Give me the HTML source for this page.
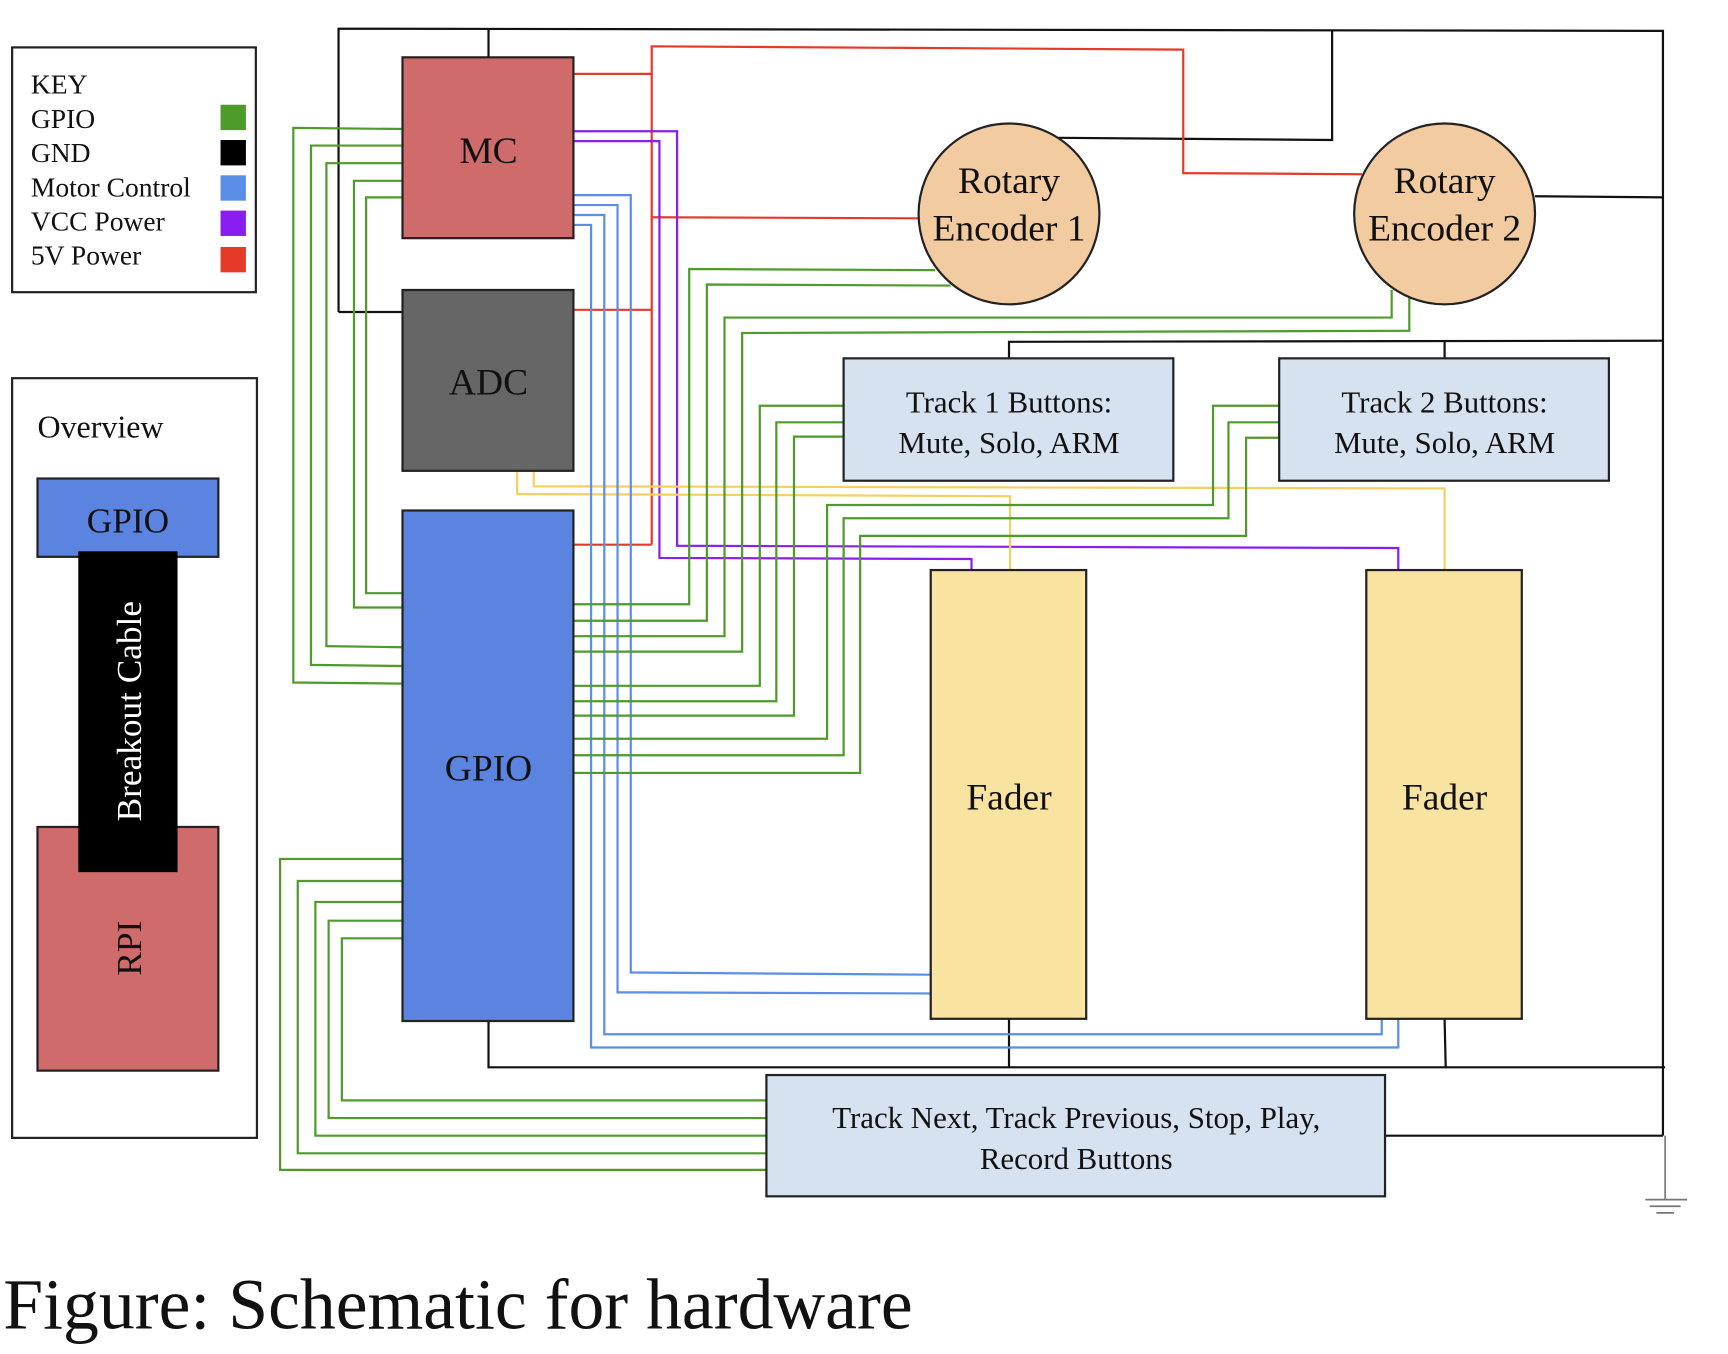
<!DOCTYPE html>
<html><head><meta charset="utf-8"><style>
html,body{margin:0;padding:0;background:#fff;}
svg{display:block;}
text{font-family:"Liberation Serif",serif;fill:#111;}
</style></head><body>
<svg width="1728" height="1354" viewBox="0 0 1567 1228" preserveAspectRatio="none" xmlns="http://www.w3.org/2000/svg">
<!-- KEY -->
<rect x="11" y="43" width="221" height="222" fill="#fff" stroke="#222" stroke-width="2"/>
<g font-size="25">
<text x="28" y="85">KEY</text>
<text x="28" y="116">GPIO</text>
<text x="28" y="147">GND</text>
<text x="28" y="178">Motor Control</text>
<text x="28" y="209">VCC Power</text>
<text x="28" y="240">5V Power</text>
</g>
<rect x="200" y="95" width="23" height="23" fill="#4e9a2a"/>
<rect x="200" y="127" width="23" height="23" fill="#000"/>
<rect x="200" y="159" width="23" height="23" fill="#5b8ee6"/>
<rect x="200" y="191" width="23" height="23" fill="#8a1ef0"/>
<rect x="200" y="224" width="23" height="23" fill="#e53a2a"/>
<!-- Overview -->
<rect x="11" y="343" width="222" height="689" fill="#fff" stroke="#222" stroke-width="2"/>
<text x="34" y="397" font-size="29">Overview</text>
<rect x="34" y="434" width="164" height="71" fill="#5b84e0" stroke="#222" stroke-width="2"/>
<text x="116" y="483" font-size="32" text-anchor="middle">GPIO</text>
<rect x="34" y="750" width="164" height="221" fill="#d06b6b" stroke="#222" stroke-width="2"/>
<rect x="71" y="500" width="90" height="291" fill="#000"/>
<text transform="translate(128,645) rotate(-90)" font-size="32" text-anchor="middle" style="fill:#fff">Breakout Cable</text>
<text transform="translate(128,860) rotate(-90)" font-size="32" text-anchor="middle">RPI</text>

<!-- black wires -->
<g fill="none" stroke="#111" stroke-width="2">
<polyline points="307,283 307,26 1508,28 1508,1030"/>
<line x1="307" y1="283" x2="365" y2="283"/>
<line x1="443" y1="26" x2="443" y2="52"/>
<polyline points="1208,27 1208,127 960,125"/>
<line x1="1392" y1="178" x2="1508" y2="179"/>
<polyline points="915,325 915,310 1508,309"/>
<line x1="1310" y1="310" x2="1310" y2="325"/>
<polyline points="443,926 443,968 1510,968"/>
<line x1="915" y1="924" x2="915" y2="968"/>
<line x1="1310" y1="924" x2="1311" y2="968"/>
<line x1="1256" y1="1030" x2="1508" y2="1030"/>
</g>
<g stroke="#777" stroke-width="1.5">
<line x1="1510" y1="1030" x2="1510" y2="1088"/>
<line x1="1492" y1="1088" x2="1530" y2="1088"/>
<line x1="1496" y1="1094" x2="1524" y2="1094"/>
<line x1="1502" y1="1100" x2="1518" y2="1100"/>
</g>
<!-- red -->
<g fill="none" stroke="#e53a2a" stroke-width="2">
<polyline points="520,67 591,67"/>
<polyline points="591,494 591,42 1073,45 1073,157 1235,158"/>
<line x1="591" y1="197" x2="833" y2="198"/>
<line x1="520" y1="281" x2="591" y2="281"/>
<line x1="520" y1="494" x2="591" y2="494"/>
</g>
<!-- purple -->
<g fill="none" stroke="#8a1ef0" stroke-width="2">
<polyline points="520,119 614,119 614,495 1268,497 1268,517"/>
<polyline points="520,128 598,128 598,506 881,507 881,517"/>
</g>
<!-- yellow -->
<g fill="none" stroke="#f5d060" stroke-width="2">
<polyline points="469,427 469,448 916,450 916,517"/>
<polyline points="484,427 484,441 1310,443 1310,517"/>
</g>
<!-- blue -->
<g fill="none" stroke="#5b8ee6" stroke-width="2">
<polyline points="520,177 572,177 572,882 844,884"/>
<polyline points="520,186 560,186 560,900 844,901"/>
<polyline points="520,195 548,195 548,938 1253,938 1253,924"/>
<polyline points="520,204 536,204 536,950 1268,950 1268,924"/>
</g>
<!-- green -->
<g fill="none" stroke="#4e9a2a" stroke-width="2">
<polyline points="365,117 266,116 266,619 365,620"/>
<polyline points="365,132 282,132 282,603 365,604"/>
<polyline points="365,148 296,148 296,586 365,587"/>
<polyline points="365,164 321,164 321,551 365,551"/>
<polyline points="365,179 332,179 332,538 365,538"/>
<polyline points="365,779 254,779 254,1061 695,1061"/>
<polyline points="365,799 270,799 270,1046 695,1046"/>
<polyline points="365,818 286,818 286,1030 695,1030"/>
<polyline points="365,835 298,835 298,1014 695,1014"/>
<polyline points="365,851 310,851 310,998 695,998"/>
<polyline points="520,548 625,548 625,244 848,245"/>
<polyline points="520,563 641,563 641,258 862,259"/>
<polyline points="520,577 657,577 657,288 1262,288 1262,263"/>
<polyline points="520,591 673,591 673,302 1278,300 1278,268"/>
<polyline points="520,622 689,622 689,368 765,368"/>
<polyline points="520,636 704,636 704,383 765,383"/>
<polyline points="520,649 720,649 720,396 765,396"/>
<polyline points="520,670 750,670 750,458 1100,458 1100,368 1160,368"/>
<polyline points="520,685 765,685 765,470 1114,470 1114,383 1160,383"/>
<polyline points="520,701 780,701 780,486 1130,486 1130,397 1160,397"/>
</g>

<!-- blocks -->
<rect x="365" y="52" width="155" height="164" fill="#d06b6b" stroke="#222" stroke-width="2"/>
<text x="443" y="148" font-size="34" text-anchor="middle">MC</text>
<rect x="365" y="263" width="155" height="164" fill="#666" stroke="#222" stroke-width="2"/>
<text x="443" y="358" font-size="34" text-anchor="middle">ADC</text>
<rect x="365" y="463" width="155" height="463" fill="#5b84e0" stroke="#222" stroke-width="2"/>
<text x="443" y="708" font-size="34" text-anchor="middle">GPIO</text>

<circle cx="915" cy="194" r="82" fill="#f2cba0" stroke="#222" stroke-width="2"/>
<text x="915" y="175" font-size="34" text-anchor="middle">Rotary</text>
<text x="915" y="218" font-size="34" text-anchor="middle">Encoder 1</text>
<circle cx="1310" cy="194" r="82" fill="#f2cba0" stroke="#222" stroke-width="2"/>
<text x="1310" y="175" font-size="34" text-anchor="middle">Rotary</text>
<text x="1310" y="218" font-size="34" text-anchor="middle">Encoder 2</text>

<rect x="765" y="325" width="299" height="111" fill="#d6e2f0" stroke="#222" stroke-width="2"/>
<text x="915" y="374" font-size="28" text-anchor="middle">Track 1 Buttons:</text>
<text x="915" y="411" font-size="28" text-anchor="middle">Mute, Solo, ARM</text>
<rect x="1160" y="325" width="299" height="111" fill="#d6e2f0" stroke="#222" stroke-width="2"/>
<text x="1310" y="374" font-size="28" text-anchor="middle">Track 2 Buttons:</text>
<text x="1310" y="411" font-size="28" text-anchor="middle">Mute, Solo, ARM</text>

<rect x="844" y="517" width="141" height="407" fill="#f9e3a0" stroke="#222" stroke-width="2"/>
<text x="915" y="734" font-size="34" text-anchor="middle">Fader</text>
<rect x="1239" y="517" width="141" height="407" fill="#f9e3a0" stroke="#222" stroke-width="2"/>
<text x="1310" y="734" font-size="34" text-anchor="middle">Fader</text>

<rect x="695" y="975" width="561" height="110" fill="#d6e2f0" stroke="#222" stroke-width="2"/>
<text x="976" y="1023" font-size="28" text-anchor="middle">Track Next, Track Previous, Stop, Play,</text>
<text x="976" y="1060" font-size="28" text-anchor="middle">Record Buttons</text>

<text x="3" y="1205" font-size="65">Figure: Schematic for hardware</text>
</svg>
</body></html>
